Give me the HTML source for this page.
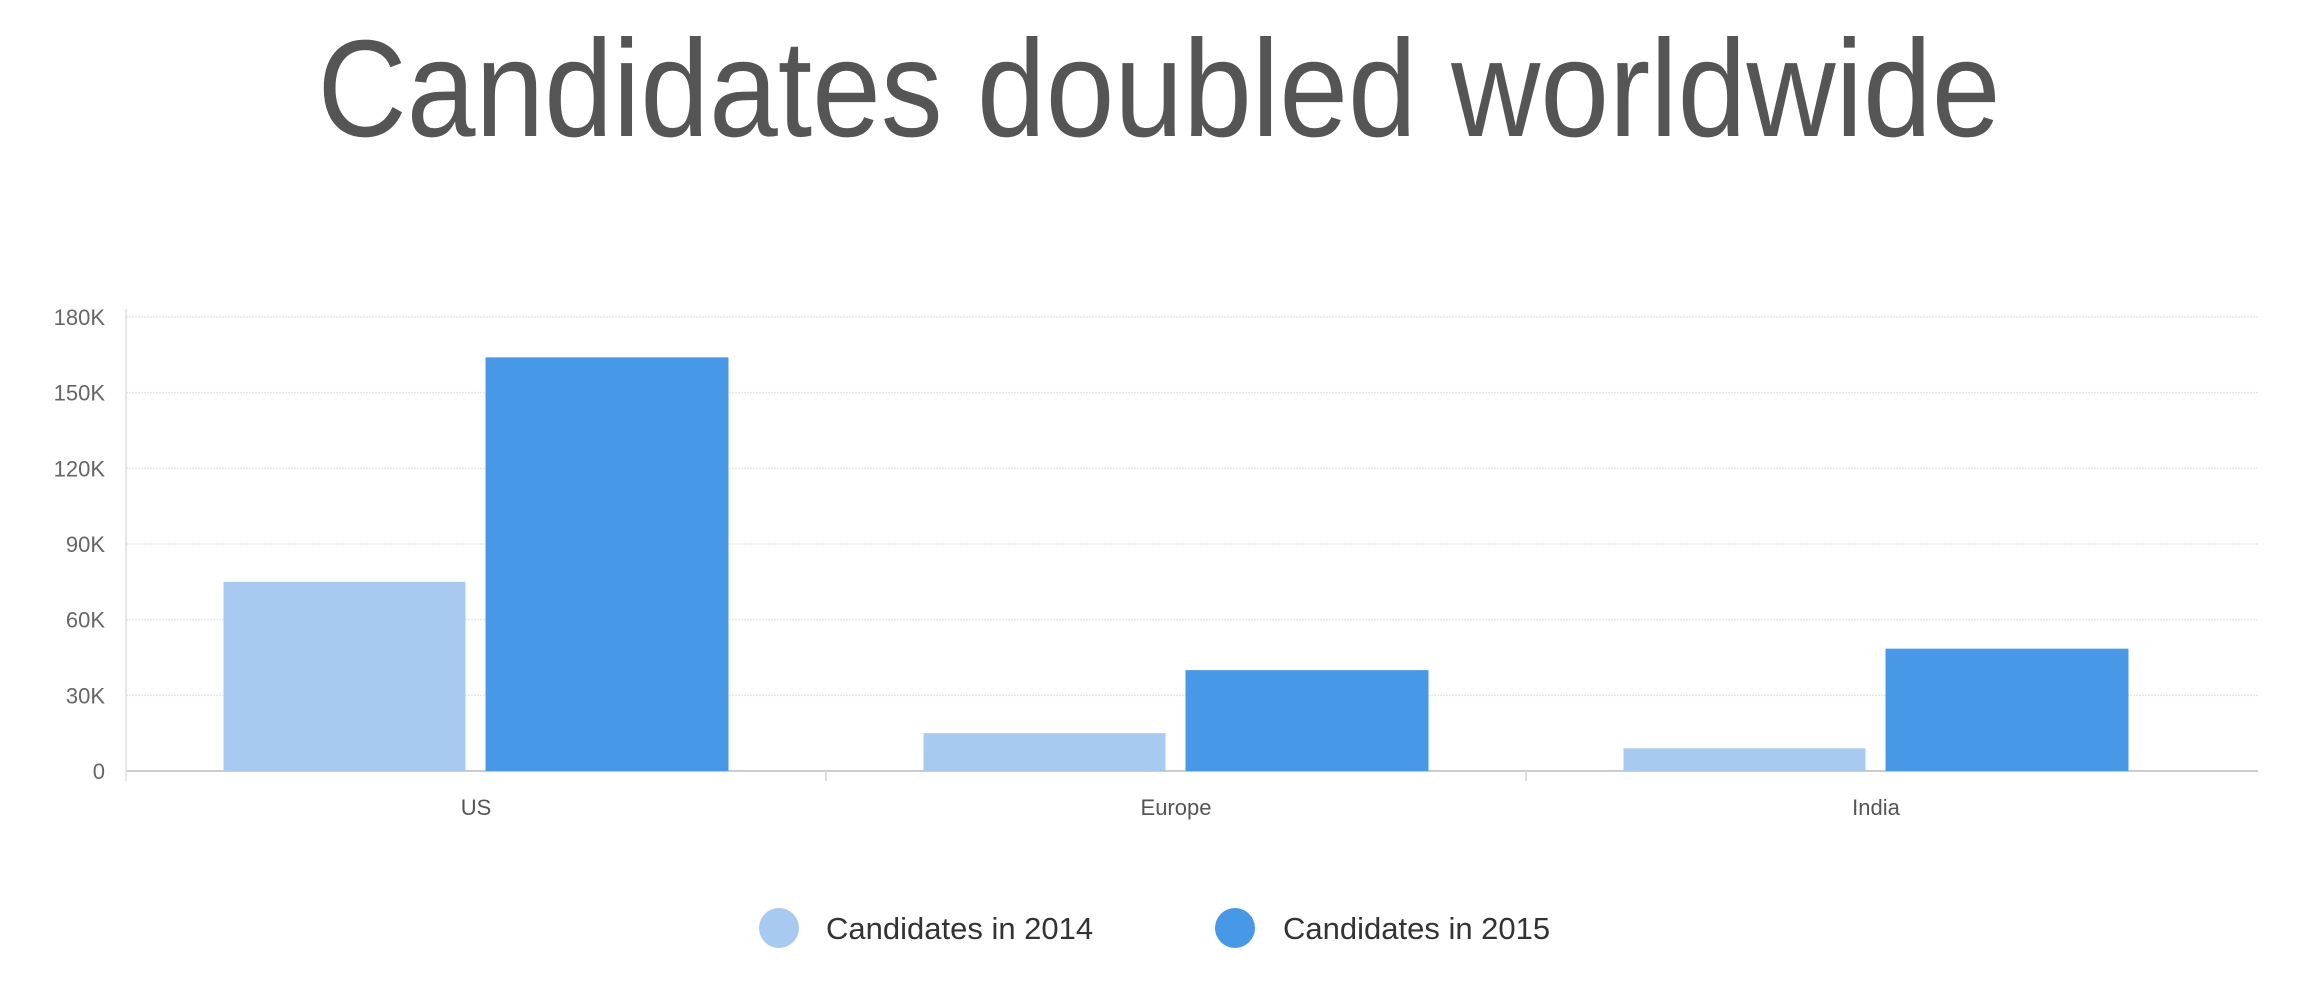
<!DOCTYPE html>
<html><head><meta charset="utf-8"><style>
html,body{margin:0;padding:0;background:#fff;width:2308px;height:988px;overflow:hidden}
svg text{font-family:"Liberation Sans",sans-serif}
</style></head><body>
<svg id="chart" width="2308" height="988">
<text x="1159" y="136" text-anchor="middle" font-size="138" fill="#555" textLength="1683" lengthAdjust="spacingAndGlyphs">Candidates doubled worldwide</text>
<g id="grid"></g><g id="bars"></g><g id="xlabels"></g>
<g>
<g><circle cx="779" cy="928" r="20" fill="#a8caf0"/><text x="826" y="939" font-size="31" fill="#333">Candidates in 2014</text></g>
<g><circle cx="1235" cy="928" r="20" fill="#4898e8"/><text x="1283" y="939" font-size="31" fill="#333">Candidates in 2015</text></g>
</g>
</svg>
<script>
const categories=["US","Europe","India"];
const series2014=[75,15,9];
const series2015=[164,40,48.5];
const yTicks=[0,30,60,90,120,150,180];
const yTickLabels=["0","30K","60K","90K","120K","150K","180K"];
const NS="http://www.w3.org/2000/svg";
const L=126,R=2226,GR=2258,Y0=771,Y1=317,YMAX=180;
const band=(R-L)/categories.length;
function y(v){return Y0-(v/YMAX)*(Y0-Y1);}
function mk(tag,attrs,parent){const e=document.createElementNS(NS,tag);for(const k in attrs)e.setAttribute(k,attrs[k]);parent.appendChild(e);return e;}
const grid=document.getElementById('grid');
yTicks.forEach((t,i)=>{
  const ln=mk('line',{x1:L,x2:GR,y1:y(t),y2:y(t),stroke:i==0?'#ccc':'#e6e6e6','stroke-width':i==0?2:1.5,'stroke-dasharray':i==0?'':'2,1'},grid);
  
  
  const tx=mk('text',{x:105,y:y(t)+8,'text-anchor':'end','font-size':22,fill:'#666'},grid);
  tx.textContent=yTickLabels[i];
  
  
});
const ax=mk('line',{x1:L,x2:L,y1:Y1-8,y2:Y0+10,stroke:'#ddd','stroke-width':1.5},grid);


for(let i=1;i<categories.length;i++){
  const tk=mk('line',{x1:L+band*i,x2:L+band*i,y1:Y0,y2:Y0+10,stroke:'#ddd','stroke-width':2},grid);
  
  
}
const bars=document.getElementById('bars'),xl=document.getElementById('xlabels');
categories.forEach((c,i)=>{
  const b0=L+band*i;
  const r1=mk('rect',{x:b0+97.5,y:y(series2014[i]),width:242,height:Y0-y(series2014[i]),fill:'#a8caf0'},bars);
  
  
  const r2=mk('rect',{x:b0+359.5,y:y(series2015[i]),width:243,height:Y0-y(series2015[i]),fill:'#4898e8'},bars);
  
  
  const t=mk('text',{x:b0+band/2,y:815,'text-anchor':'middle','font-size':22,fill:'#555'},xl);
  t.textContent=c;
  
  
});
</script>
</body></html>
